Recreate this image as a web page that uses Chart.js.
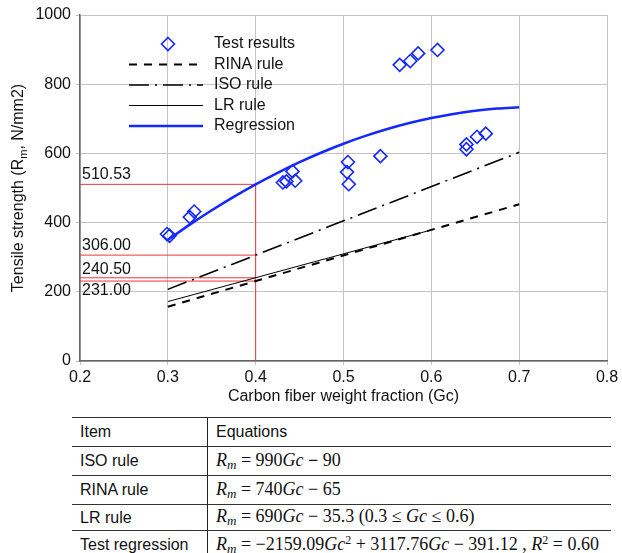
<!DOCTYPE html>
<html>
<head>
<meta charset="utf-8">
<script src="https://cdn.jsdelivr.net/npm/chart.js@4"></script>
<style>
  body { margin: 0; background: #fff; font-family: "Liberation Sans", Arial, sans-serif; }
  #wrap { position: relative; width: 622px; height: 553px; overflow: hidden; }
  #myChart { position: absolute; left: 0; top: 0; }
  table.eq { position: absolute; left: 72px; top: 417px; width: 539px; border-collapse: collapse; font-size: 16px; color: #111; }
  table.eq td { border-top: 1.5px solid #333; padding: 0 0 0 8px; height: 28px; white-space: nowrap; }
  table.eq td:first-child { width: 127px; border-right: 1px solid #222; }
  table.eq tr:nth-child(4) td { height: 25px; }
  table.eq .m { font-family: "Liberation Serif", "Times New Roman", serif; font-size: 18px; }
  table.eq .m sub { font-size: 13px; vertical-align: -3px; }
  table.eq .m sup { font-size: 12px; vertical-align: 6px; }
</style>
</head>
<body>
<div id="wrap">
  <canvas id="myChart" width="622" height="410"></canvas>
  <table class="eq">
    <tr><td>Item</td><td>Equations</td></tr>
    <tr><td>ISO rule</td><td class="m"><i>R</i><sub><i>m</i></sub> = 990<i>Gc</i> <b>−</b> 90</td></tr>
    <tr><td>RINA rule</td><td class="m"><i>R</i><sub><i>m</i></sub> = 740<i>Gc</i> − 65</td></tr>
    <tr><td>LR rule</td><td class="m"><i>R</i><sub><i>m</i></sub> = 690<i>Gc</i> − 35.3 (0.3 ≤ <i>Gc</i> ≤ 0.6)</td></tr>
    <tr><td>Test regression</td><td class="m"><i>R</i><sub><i>m</i></sub> = −2159.09<i>Gc</i><sup>2</sup> + 3117.76<i>Gc</i> − 391.12 , <i>R</i><sup>2</sup> = 0.60</td></tr>
  </table>
</div>
<script>
// test points (Gc, Rm)
const testGc = [0.299, 0.302, 0.325, 0.330, 0.431, 0.435, 0.442, 0.445, 0.504, 0.505, 0.506, 0.542,
                0.564, 0.576, 0.585, 0.607, 0.640, 0.640, 0.652, 0.662];
const testRm = [367, 362, 416, 432, 516, 519, 548, 521, 546, 575, 511, 592,
                856, 867, 889, 899, 612, 626, 648, 657];

// regression curve sampled along Gc
const regGc = [0.300, 0.325, 0.350, 0.375, 0.400, 0.425, 0.450, 0.475, 0.500, 0.525, 0.550,
               0.575, 0.600, 0.625, 0.650, 0.675, 0.700];
const regRm = [349.89, 394.10, 435.61, 474.42, 510.53, 543.94, 574.66, 602.67, 627.99, 650.60, 670.52,
               687.74, 702.26, 714.09, 723.21, 729.63, 733.36];

// rule lines, end points
const isoGc = [0.3, 0.7];
const isoRm = [207, 603];
const rinaGc = [0.3, 0.7];
const rinaRm = [157, 453];
const lrGc = [0.3, 0.6];
const lrRm = [171.7, 378.7];

const markGc = 0.4;
const markRm = [510.53, 306.00, 240.50, 231.00];

const xTicks = [0.2, 0.3, 0.4, 0.5, 0.6, 0.7, 0.8];
const yTicks = [0, 200, 400, 600, 800, 1000];

const legendNames = ['Test results', 'RINA rule', 'ISO rule', 'LR rule', 'Regression'];

const FONT = '"Liberation Sans", Arial, sans-serif';
const BLUE = '#1428ff';
const RED = '#e8383a';

function pts(xs, ys) {
    return xs.map((x, i) => ({ x: x, y: ys[i] }));
}

// red guide lines at Gc = 0.4
const guideSets = markRm.map(v => ({
    label: 'guide',
    data: [{ x: xTicks[0], y: v }, { x: markGc, y: v }],
    borderColor: RED, borderWidth: 1, pointRadius: 0, showLine: true, order: 5
}));
guideSets.push({
    label: 'guide',
    data: [{ x: markGc, y: yTicks[0] }, { x: markGc, y: markRm[0] }],
    borderColor: RED, borderWidth: 1, pointRadius: 0, showLine: true, order: 5
});

// label offsets (px) for the guide values
const guideOffsets = [-10, -10, -8, 10];

const extras = {
    id: 'extras',
    afterDatasetsDraw(chart) {
        const ctx = chart.ctx;
        const xs = chart.scales.x, ys = chart.scales.y;
        ctx.save();
        ctx.fillStyle = '#111';
        ctx.font = '16px ' + FONT;
        ctx.textBaseline = 'middle';
        ctx.textAlign = 'left';
        markRm.forEach((v, i) => {
            ctx.fillText(v.toFixed(2), xs.left + 2, ys.getPixelForValue(v) + guideOffsets[i]);
        });

        // legend
        const rows = [44, 64.5, 85, 105.5, 126];
        const x0 = 129, x1 = 203, tx = 214;
        legendNames.forEach((name, i) => {
            ctx.fillStyle = '#111';
            ctx.fillText(name, tx, rows[i]);
        });
        ctx.strokeStyle = BLUE;
        ctx.lineWidth = 1.6;
        ctx.beginPath();
        ctx.moveTo(168, rows[0] - 6.5); ctx.lineTo(174.5, rows[0]);
        ctx.lineTo(168, rows[0] + 6.5); ctx.lineTo(161.5, rows[0]); ctx.closePath();
        ctx.stroke();

        const styles = [
            { c: '#000', w: 2, d: [8, 7] },
            { c: '#000', w: 1.6, d: [20, 6, 2, 6] },
            { c: '#000', w: 1, d: [] },
            { c: BLUE, w: 2.5, d: [] }
        ];
        styles.forEach((s, i) => {
            ctx.strokeStyle = s.c;
            ctx.lineWidth = s.w;
            ctx.setLineDash(s.d);
            ctx.beginPath();
            ctx.moveTo(x0, rows[i + 1]);
            ctx.lineTo(x1, rows[i + 1]);
            ctx.stroke();
        });
        ctx.setLineDash([]);

        // axis titles
        ctx.fillStyle = '#111';
        ctx.textAlign = 'center';
        ctx.fillText('Carbon fiber weight fraction (Gc)', (xs.left + xs.right) / 2, 397);

        ctx.translate(19, (ys.top + ys.bottom) / 2);
        ctx.rotate(-Math.PI / 2);
        ctx.textAlign = 'left';
        const a = 'Tensile strength (R', b = 'm', c = ', N/mm2)';
        ctx.font = '16px ' + FONT;
        const wa = ctx.measureText(a).width, wc = ctx.measureText(c).width;
        ctx.font = '11px ' + FONT;
        const wb = ctx.measureText(b).width;
        let x = -(wa + wb + wc) / 2;
        ctx.font = '16px ' + FONT;
        ctx.fillText(a, x, 0);
        x += wa;
        ctx.font = '11px ' + FONT;
        ctx.fillText(b, x, 5);
        x += wb;
        ctx.font = '16px ' + FONT;
        ctx.fillText(c, x, 0);
        ctx.restore();
    }
};

const ctx = document.getElementById('myChart').getContext('2d');
const myChart = new Chart(ctx, {
    type: 'scatter',
    data: {
        datasets: [
            {
                label: 'Test results',
                data: pts(testGc, testRm),
                pointStyle: 'rectRot',
                pointRadius: 6.5,
                pointBorderWidth: 1.6,
                borderColor: BLUE,
                backgroundColor: 'rgba(0,0,0,0)',
                order: 0
            },
            {
                label: 'RINA rule',
                data: pts(rinaGc, rinaRm),
                showLine: true, pointRadius: 0,
                borderColor: '#000', borderWidth: 2, borderDash: [8, 7], order: 2
            },
            {
                label: 'ISO rule',
                data: pts(isoGc, isoRm),
                showLine: true, pointRadius: 0,
                borderColor: '#000', borderWidth: 1.6, borderDash: [20, 6, 2, 6], order: 2
            },
            {
                label: 'LR rule',
                data: pts(lrGc, lrRm),
                showLine: true, pointRadius: 0,
                borderColor: '#000', borderWidth: 1, order: 2
            },
            {
                label: 'Regression',
                data: pts(regGc, regRm),
                showLine: true, pointRadius: 0,
                borderColor: BLUE, borderWidth: 2.5,
                cubicInterpolationMode: 'monotone', order: 1
            },
            ...guideSets
        ]
    },
    options: {
        responsive: false,
        animation: false,
        devicePixelRatio: 1,
        layout: { padding: { top: 15, right: 15, bottom: 0, left: 0 } },
        plugins: {
            legend: { display: false },
            tooltip: { enabled: false }
        },
        scales: {
            x: {
                type: 'linear',
                min: xTicks[0], max: xTicks[xTicks.length - 1],
                afterBuildTicks: (s) => { s.ticks = xTicks.map(v => ({ value: v })); },
                afterFit: (s) => { s.height = 49; },
                grid: { color: '#c4c4c4', lineWidth: 1, tickLength: 4, tickColor: '#c4c4c4' },
                border: { color: '#666', width: 1.5 },
                ticks: {
                    color: '#111', font: { family: FONT, size: 16 }, padding: 3,
                    callback: (v) => Number(v).toFixed(1)
                }
            },
            y: {
                min: yTicks[0], max: yTicks[yTicks.length - 1],
                afterBuildTicks: (s) => { s.ticks = yTicks.map(v => ({ value: v })); },
                afterFit: (s) => { s.width = 80; },
                grid: { color: '#c4c4c4', lineWidth: 1, tickLength: 4, tickColor: '#c4c4c4' },
                border: { color: '#666', width: 1.5 },
                ticks: {
                    color: '#111', font: { family: FONT, size: 16 }, padding: 5,
                    callback: (v) => String(v)
                }
            }
        }
    },
    plugins: [extras]
});
</script>
</body>
</html>
